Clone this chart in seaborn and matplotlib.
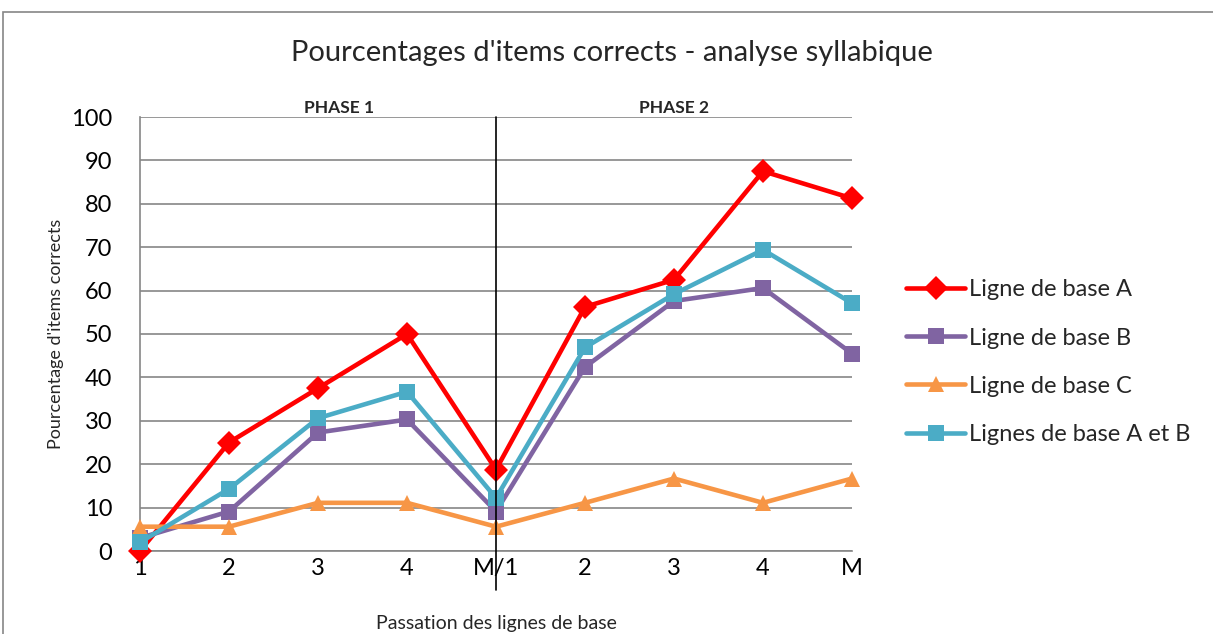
"""
Pourcentages d'items corrects - analyse syllabique (line chart, two phases).
"""

import pandas as pd
import seaborn as sns
from matplotlib import pyplot as plt
from matplotlib.lines import Line2D
from matplotlib.patches import Rectangle

sessions = ["1", "2", "3", "4", "M/1", "2", "3", "4", "M"]
ligne_a = [0, 25, 37.5, 50, 18.75, 56.25, 62.5, 87.5, 81.25]
ligne_b = [3.0, 9.1, 27.3, 30.3, 9.1, 42.4, 57.6, 60.6, 45.5]
ligne_c = [5.6, 5.6, 11.1, 11.1, 5.6, 11.1, 16.7, 11.1, 16.7]
ligne_ab = [2.0, 14.3, 30.6, 36.7, 12.2, 46.9, 59.2, 69.4, 57.1]

series = ["Ligne de base A", "Ligne de base B", "Ligne de base C", "Lignes de base A et B"]
colors = ["#FF0000", "#8064A2", "#F79646", "#4BACC6"]
markers = ["D", "s", "^", "s"]

rows = []
for name, vals in zip(series, [ligne_a, ligne_b, ligne_c, ligne_ab]):
    for i, v in enumerate(vals):
        rows.append({"pos": i, "val": v, "serie": name})
df = pd.DataFrame(rows)

sns.set_style("white")
plt.rcParams["font.family"] = ["Lato", "DejaVu Sans"]

fig = plt.figure(figsize=(12.13, 6.34), dpi=100)
ax = fig.add_axes([140 / 1213, 1 - 551 / 634, 712 / 1213, 434 / 634])

sns.lineplot(
    data=df, x="pos", y="val", hue="serie", style="serie",
    palette=dict(zip(series, colors)), markers=dict(zip(series, markers)),
    dashes=False, linewidth=3.3, markersize=12, markeredgewidth=0,
    legend=False, ax=ax, zorder=3,
)
for line in ax.lines:
    line.set_clip_on(False)

ax.set_xlim(0, 8)
ax.set_ylim(0, 100)
ax.set_yticks(range(0, 101, 10))
ax.set_xticks(range(len(sessions)))
ax.set_xticklabels(sessions)
ax.tick_params(axis="both", labelsize=17, colors="black")
ax.tick_params(axis="x", length=5, width=1, color="#868686", direction="out", pad=0)
ax.tick_params(axis="y", length=0, pad=20)
ax.yaxis.grid(True, color="#868686", linewidth=1.2)
ax.set_axisbelow(True)
for side in ["top", "right"]:
    ax.spines[side].set_visible(False)
for side in ["left", "bottom"]:
    ax.spines[side].set_color("#868686")
    ax.spines[side].set_linewidth(1.2)

ax.axvline(4, ymin=-0.09, ymax=1, color="black", linewidth=1.2, clip_on=False, zorder=4)

ax.text(2.24, 100.9, "PHASE 1", ha="center", va="baseline", fontsize=12.5, fontweight="bold")
ax.text(6.0, 100.9, "PHASE 2", ha="center", va="baseline", fontsize=12.5, fontweight="bold")

ax.set_xlabel("Passation des lignes de base", fontsize=14, labelpad=26)
ax.set_ylabel("Pourcentage d'items corrects", fontsize=13, labelpad=5)
fig.suptitle("Pourcentages d'items corrects - analyse syllabique", fontsize=21, x=612 / 1213, y=1 - 53 / 634, va="center")

handles = [
    Line2D([], [], color=c, marker=m, linewidth=3.3, markersize=12, markeredgewidth=0)
    for c, m in zip(colors, markers)
]
fig.legend(
    handles, series, loc="upper left", bbox_to_anchor=(897 / 1213, 1 - 270 / 634),
    frameon=False, fontsize=17, handlelength=2.5, handletextpad=0.15, labelspacing=1.15,
    borderaxespad=0,
)

fig.add_artist(Rectangle((3 / 1213, -0.02), 1.02, 1 - 12 / 634 + 0.02, transform=fig.transFigure,
                         fill=False, edgecolor="#868686", linewidth=1.2))

plt.savefig("out.png", dpi=100)
